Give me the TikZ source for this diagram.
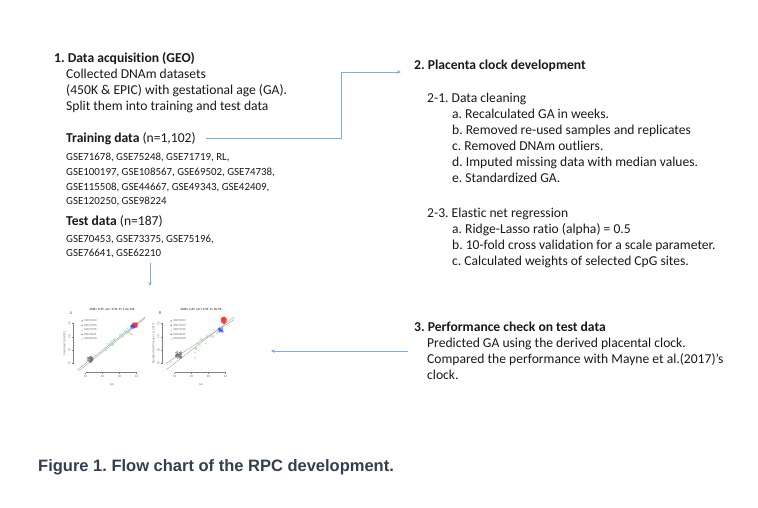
\documentclass[tikz,border=0pt]{standalone}
\usepackage{fontspec}
\setmainfont{Carlito}[Ligatures={NoCommon}]
\newfontfamily\capfont{Liberation Sans}
\usetikzlibrary{arrows.meta}
\frenchspacing
\definecolor{arrowblue}{HTML}{7EAEDC}
\definecolor{captext}{HTML}{333F50}
\definecolor{bodytext}{HTML}{1A1A1A}
\definecolor{ptgreen}{HTML}{8FDC8F}
\definecolor{ptcyan}{HTML}{70E4F2}
\tikzset{
  txt/.style={anchor=base west, inner sep=0pt, font=\fontsize{13.6}{16}\selectfont, text=bodytext},
  hdr/.style={txt, font=\fontsize{13.6}{16}\selectfont\bfseries},
  small/.style={txt, font=\fontsize{10.9}{13}\selectfont},
  conn/.style={arrowblue, line width=0.8pt, -{Stealth[length=4pt,width=3.5pt]}},
  tiny/.style={inner sep=0pt, font=\fontsize{3}{3.5}\selectfont, text=black!60},
  tinyb/.style={inner sep=0pt, font=\fontsize{3.2}{3.5}\selectfont\bfseries, text=black!70},
  axisline/.style={black!50, line width=0.3pt},
  refline/.style={black!40, line width=0.35pt},
  pt/.style={line width=0.25pt, draw opacity=0.8},
}
\begin{document}
\begin{tikzpicture}[x=1pt, y=-1pt]
\useasboundingbox (0,0) rectangle (758,507);
\fill[white] (0,0) rectangle (758,507);

% ---------- Block 1 ----------
\node[hdr] (h1) at (54,62.5) {1. Data acquisition (GEO)};
\node[txt] (l11) at (66,78.5) {Collected DNAm datasets};
\node[txt] (l12) at (66,94.5) {(450K \& EPIC) with gestational age (GA).};
\node[txt] (l13) at (66,110.5) {Split them into training and test data};
\node[txt] (train) at (66,142.5) {\textbf{Training data} (n=1,102)};
\node[small] (g1) at (66,160.5) {GSE71678, GSE75248, GSE71719, RL,};
\node[small] (g2) at (66,175.5) {GSE100197, GSE108567, GSE69502, GSE74738,};
\node[small] (g3) at (66,190) {GSE115508, GSE44667, GSE49343, GSE42409,};
\node[small] (g4) at (66,204.5) {GSE120250, GSE98224};
\node[txt] (test) at (66,225.5) {\textbf{Test data} (n=187)};
\node[small] (t1) at (66,242) {GSE70453, GSE73375, GSE75196,};
\node[small] (t2) at (66,256) {GSE76641, GSE62210};

% ---------- Block 2 ----------
\node[hdr] (h2) at (414,69.5) {2. Placenta clock development};
\node[txt] (s21) at (427,102.5) {2-1. Data cleaning};
\node[txt] (s21a) at (452,118.5) {a. Recalculated GA in weeks.};
\node[txt] (s21b) at (452,134.5) {b. Removed re-used samples and replicates};
\node[txt] (s21c) at (452,150.5) {c. Removed DNAm outliers.};
\node[txt] (s21d) at (452,166.5) {d. Imputed missing data with median values.};
\node[txt] (s21e) at (452,182.5) {e. Standardized GA.};
\node[txt] (s23) at (427,217.5) {2-3. Elastic net regression};
\node[txt] (s23a) at (452,233.5) {a. Ridge-Lasso ratio (alpha) = 0.5};
\node[txt] (s23b) at (452,249.5) {b. 10-fold cross validation for a scale parameter.};
\node[txt] (s23c) at (452,265.5) {c. Calculated weights of selected CpG sites.};

% ---------- Block 3 ----------
\node[hdr] (h3) at (414,331.5) {3. Performance check on test data};
\node[txt] (l31) at (427,347.5) {Predicted GA using the derived placental clock.};
\node[txt] (l32) at (427,363.5) {Compared the performance with Mayne et al.(2017)'s};
\node[txt] (l33) at (427,379.5) {clock.};

% ---------- Connectors ----------
\coordinate (a1s) at (206,138);
\coordinate (a1e) at (401,72);
\draw[conn] (a1s) -- ++(135,0) |- (a1e);
\coordinate (dtop) at (150,263);
\coordinate (dbot) at (150,286);
\draw[conn] (dtop) -- (dbot);
\coordinate (a3s) at (408,351);
\coordinate (a3e) at (271,351);
\draw[conn] (a3s) -- (a3e);

% ---------- Plot A ----------
\begin{scope}[shift={(68.5pt,-376.6pt)}, x=1.7pt, y=1.325pt]
  \node[tiny, font=\fontsize{4.5}{5}\selectfont] (pA) at (1.5,48) {A};
  \node[tinyb] (tA) at (25.6,51) {MAE= 0.95\ \ cor= 0.99\ \ P= 1.4e-146};
  \draw[axisline] (10,3) -- (40,3);
  \draw[axisline] (3,10) -- (3,40);
  \foreach \t in {10,20,30,40}{
    \draw[axisline] (\t,3) -- (\t,1.8);
    \draw[axisline] (3,\t) -- (1.8,\t);
    \node[tiny] at (\t,0) {\t};
    \node[tiny, rotate=90] at (0.6,\t) {\t};
  }
  \node[tiny] (xA) at (25.6,-6.3) {GA};
  \node[tiny, rotate=90] (yA) at (-2.3,25) {Predicted GA (RPC)};
  \draw[refline] (5,5) -- (45,45);
  \draw[refline] (6,4.2) -- (45,44);
  \pgfmathsetseed{11}
  \foreach \i in {1,...,30}{
    \pgfmathsetmacro\a{12.5+1.6*rand}\pgfmathsetmacro\b{13+2.2*rand}
    \draw[pt, black!55] (\a,\b) circle[radius=0.9pt];}
  \foreach \i in {1,...,16}{
    \pgfmathsetmacro\a{22+16*rnd}\pgfmathsetmacro\b{\a+2.5*rand}
    \draw[pt, ptgreen] (\a,\b) circle[radius=0.9pt];}
  \foreach \i in {1,...,45}{
    \pgfmathsetmacro\a{39+1.3*rand}\pgfmathsetmacro\b{39+1.3*rand}
    \draw[pt, red!80] (\a,\b) circle[radius=0.9pt];}
  \foreach \i in {1,...,14}{
    \pgfmathsetmacro\a{37.8+1.0*rand}\pgfmathsetmacro\b{37.6+1.0*rand}
    \draw[pt, blue!75] (\a,\b) circle[radius=0.9pt];}
  \foreach \p in {(8,8),(22,20),(33,34),(36,35)}{
    \draw[pt, ptcyan] \p circle[radius=0.9pt];}
  \draw[pt, red!60] (37,32) circle[radius=0.9pt];
  \foreach \c/\n [count=\k] in {black!60/GSE70453,red!80/GSE73375,ptgreen/GSE75196,blue!75/GSE76641,ptcyan/GSE62210}{
    \draw[\c, line width=0.25pt] (8,45.4-3.4*\k) circle[radius=0.6pt];
    \node[tiny, anchor=west] at (9.2,45.4-3.4*\k) {\n};
  }
\end{scope}

% ---------- Plot B ----------
\begin{scope}[shift={(157.5pt,-376.6pt)}, x=1.7pt, y=1.325pt]
  \node[tiny, font=\fontsize{4.5}{5}\selectfont] (pB) at (1.5,48) {B};
  \node[tinyb] (tB) at (25.6,51) {MAE= 2.65\ \ cor= 0.94\ \ P= 8e-90};
  \draw[axisline] (10,3) -- (40,3);
  \draw[axisline] (3,10) -- (3,40);
  \foreach \t in {10,20,30,40}{
    \draw[axisline] (\t,3) -- (\t,1.8);
    \draw[axisline] (3,\t) -- (1.8,\t);
    \node[tiny] at (\t,0) {\t};
    \node[tiny, rotate=90] at (0.6,\t) {\t};
  }
  \node[tiny] (xB) at (25.6,-6.3) {GA};
  \node[tiny, rotate=90] (yB) at (-2.3,25) {Predicted GA (Mayne et al. 2017)};
  \draw[refline] (5,5) -- (45,45);
  \draw[refline] (5,10) -- (45,43);
  \pgfmathsetseed{23}
  \foreach \i in {1,...,30}{
    \pgfmathsetmacro\a{12.5+1.6*rand}\pgfmathsetmacro\b{16.5+2.4*rand}
    \draw[pt, black!55] (\a,\b) circle[radius=0.9pt];}
  \foreach \i in {1,...,16}{
    \pgfmathsetmacro\a{22+16*rnd}\pgfmathsetmacro\b{\a+3.5*rand}
    \draw[pt, ptgreen] (\a,\b) circle[radius=0.9pt];}
  \foreach \i in {1,...,45}{
    \pgfmathsetmacro\a{39+1.3*rand}\pgfmathsetmacro\b{42.5+2*rand}
    \draw[pt, red!80] (\a,\b) circle[radius=0.9pt];}
  \foreach \i in {1,...,14}{
    \pgfmathsetmacro\a{37.5+1.3*rand}\pgfmathsetmacro\b{35+1.5*rand}
    \draw[pt, blue!75] (\a,\b) circle[radius=0.9pt];}
  \foreach \p in {(8,11),(22,14),(22,18),(33,31)}{
    \draw[pt, ptcyan] \p circle[radius=0.9pt];}
  \foreach \c/\n [count=\k] in {black!60/GSE70453,red!80/GSE73375,ptgreen/GSE75196,blue!75/GSE76641,ptcyan/GSE62210}{
    \draw[\c, line width=0.25pt] (8,45.4-3.4*\k) circle[radius=0.6pt];
    \node[tiny, anchor=west] at (9.2,45.4-3.4*\k) {\n};
  }
\end{scope}

% ---------- Caption ----------
\node[anchor=base west, inner sep=0pt, font=\capfont\bfseries\fontsize{16.5}{18}\selectfont, text=captext] (cap) at (38,471) {Figure 1. Flow chart of the RPC development.};
\end{tikzpicture}
\end{document}
